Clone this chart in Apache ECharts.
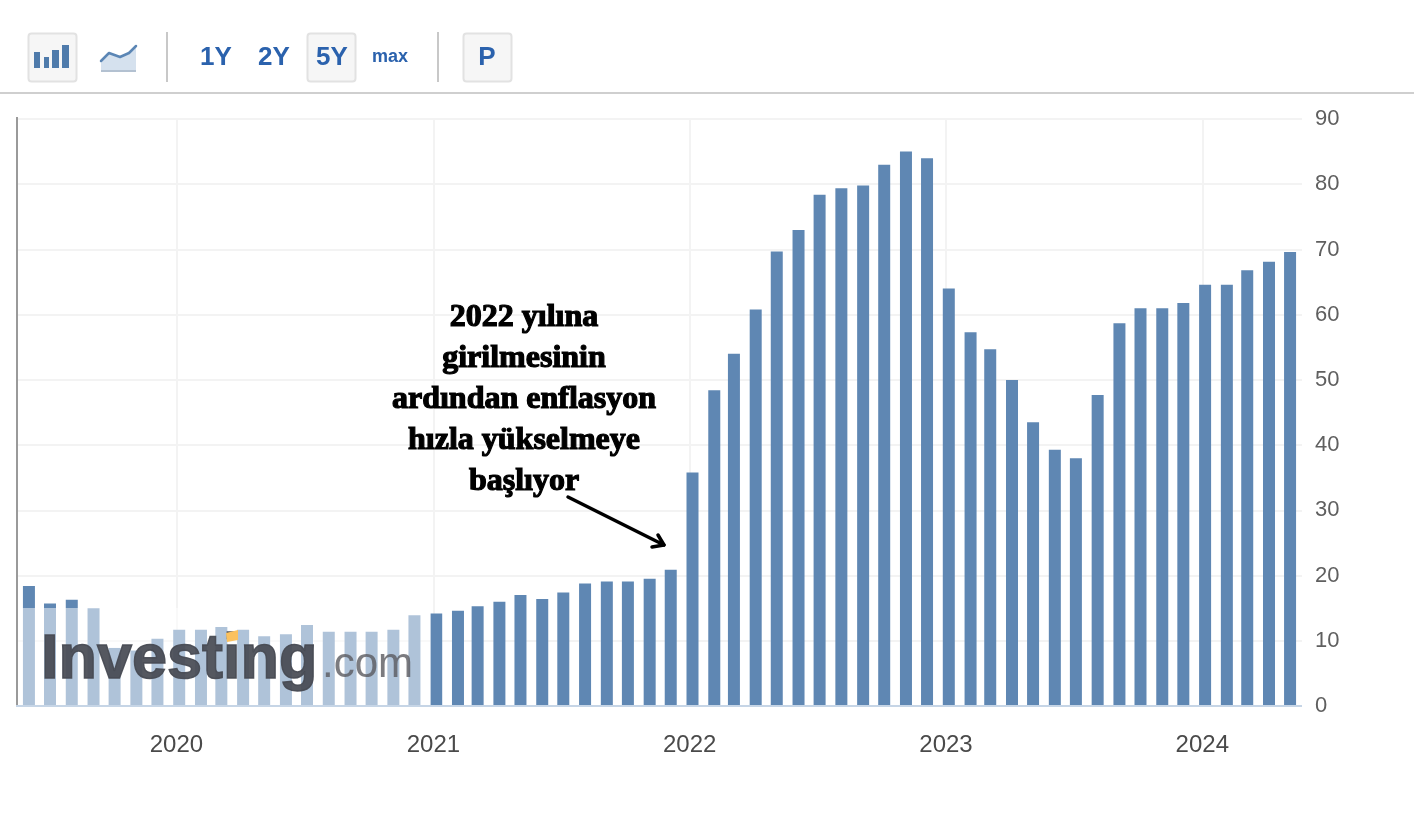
<!DOCTYPE html>
<html><head><meta charset="utf-8">
<style>html,body{margin:0;padding:0;background:#fff}#c{width:1414px;height:829px}</style>
<script src="https://cdn.jsdelivr.net/npm/echarts@6/dist/echarts.min.js"></script>
</head><body><div id="c"></div>
<script>
const releaseMonths = ['2019-06','2019-07','2019-08','2019-09','2019-10','2019-11','2019-12',
'2020-01','2020-02','2020-03','2020-04','2020-05','2020-06','2020-07','2020-08','2020-09','2020-10','2020-11','2020-12',
'2021-01','2021-02','2021-03','2021-04','2021-05','2021-06','2021-07','2021-08','2021-09','2021-10','2021-11','2021-12',
'2022-01','2022-02','2022-03','2022-04','2022-05','2022-06','2022-07','2022-08','2022-09','2022-10','2022-11','2022-12',
'2023-01','2023-02','2023-03','2023-04','2023-05','2023-06','2023-07','2023-08','2023-09','2023-10','2023-11','2023-12',
'2024-01','2024-02','2024-03','2024-04','2024-05'];
const inflation = [18.4,15.7,16.3,15.0,8.9,8.5,10.3,11.7,11.7,12.1,11.7,10.7,11.0,12.4,11.4,11.4,11.4,11.7,13.9,
14.2,14.6,15.3,16.0,17.0,16.4,17.4,18.8,19.1,19.1,19.5,20.9,
35.8,48.4,54.0,60.8,69.7,73.0,78.4,79.4,79.8,83.0,85.0,84.0,
64.0,57.3,54.7,50.0,43.5,39.3,38.0,47.7,58.7,61.0,61.0,61.8,64.6,64.6,66.8,68.1,69.6];
const yearTicks = ['2020-01-01','2021-01-01','2022-01-01','2023-01-01','2024-01-01'];
const annotationLines = ['2022 yılına','girilmesinin','ardından enflasyon','hızla yükselmeye','başlıyor'];
const rangeButtons = ['1Y','2Y','5Y','max','P'];

const ts = s => new Date(s + 'T00:00:00Z').getTime();
const yearValues = yearTicks.map(ts);
const seriesData = releaseMonths.map((m, i) => [ts(m + '-05'), inflation[i]]);

const g = [];
const Z = 100;
function rect(x, y, w, h, fill, extra) {
  g.push({type:'rect', z:Z, silent:true, shape:Object.assign({x, y, width:w, height:h}, extra && extra.shape),
    style:Object.assign({fill}, extra && extra.style)});
}
function line(pts, stroke, lw) {
  g.push({type:'polyline', z:Z+2, silent:true, shape:{points:pts}, style:{stroke, lineWidth:lw, fill:null, lineCap:'round', lineJoin:'round'}});
}
function text(t, x, y, font, fill, align, stroke, sw) {
  g.push({type:'text', z:Z+2, silent:true, x, y,
    style:{text:t, font, fill, textAlign:align||'center', textVerticalAlign:'middle', stroke:stroke||null, lineWidth:stroke?sw:0}});
}
const btn = {shape:{r:3}, style:{stroke:'#e2e2e2', lineWidth:2}};
rect(28.5,33.5,48,48,'#f6f6f6',btn);
rect(307.5,33.5,48,48,'#f6f6f6',btn);
rect(463.5,33.5,48,48,'#f6f6f6',btn);
[[34,52,6,16],[44,57,5,11],[52,50,7,18],[62,45,7,23]].forEach(b=>rect(b[0],b[1],b[2],b[3],'#4f7bab'));
g.push({type:'polygon',z:Z,silent:true,shape:{points:[[101,62],[110,54],[120,58],[131,50],[136,47],[136,71],[101,71]]},style:{fill:'#d5e1ee'}});
rect(101,70,35,2,'#b3c1d1');
line([[101,61],[109,53],[120,57],[129,53],[136,46]],'#5b86b5',2.5);
rect(166,32,2,50,'#c8c8c8');
rect(437,32,2,50,'#c8c8c8');
rect(0,92,1414,2,'#cfcfcf');
const btnX = [216,274,332,390,487];
rangeButtons.forEach((t,i)=>text(t,btnX[i],t==='max'?57:58,(t==='max'?'bold 18px':'bold 26px')+' "Liberation Sans"','#2b62ad'));
rect(17,608,414,98,'rgba(255,255,255,0.5)');
text('Investing',41,661,'bold 63px "Liberation Sans"','rgba(70,74,82,0.92)','left','rgba(70,74,82,0.92)',1.5);
text('.com',322,665,'42px "Liberation Sans"','rgba(90,90,95,0.8)','left');
g.push({type:'polygon',z:Z+3,silent:true,shape:{points:[[226,633],[238,630],[238,640],[227,642]]},style:{fill:'#fbc15e'}});
const annY=[318,359,400,441,482];
annotationLines.forEach((t,i)=>text(t,524,annY[i],'900 32px "Liberation Serif"','#000','center','#000',1.2));
line([[568,497],[664,545]],'#000',3.5);
line([[658,535],[664,545],[652,547]],'#000',3.5);
rect(16,117,2,589,'#9a9a9a');
rect(16,705,1286,2,'#c6d5e6');

const chart = echarts.init(document.getElementById('c'), null, {renderer:'canvas'});
chart.setOption({
  animation:false,
  backgroundColor:'#fff',
  grid:{left:17,right:112,top:119,bottom:123,containLabel:false},
  xAxis:{type:'value',min:ts('2019-05-19'),max:ts('2024-05-22'),
    axisLine:{show:false},
    axisTick:{show:false,customValues:yearValues},
    splitLine:{show:true,lineStyle:{color:'#f3f3f3',width:2}},
    axisLabel:{customValues:yearValues,showMinLabel:true,showMaxLabel:true,margin:27,color:'#4a4a4a',fontSize:24,fontFamily:'Liberation Sans',
      formatter:v=>String(new Date(v).getUTCFullYear())}},
  yAxis:{type:'value',position:'right',min:0,max:90,interval:10,
    axisLine:{show:false},axisTick:{show:false},
    splitLine:{lineStyle:{color:'#f3f3f3',width:2}},
    axisLabel:{margin:13,color:'#5f5f5f',fontSize:22,fontFamily:'Liberation Sans'}},
  series:[{type:'bar',data:seriesData,barWidth:12,itemStyle:{color:'#5f87b3'},z:3}],
  graphic:{elements:g}
});
</script></body></html>
